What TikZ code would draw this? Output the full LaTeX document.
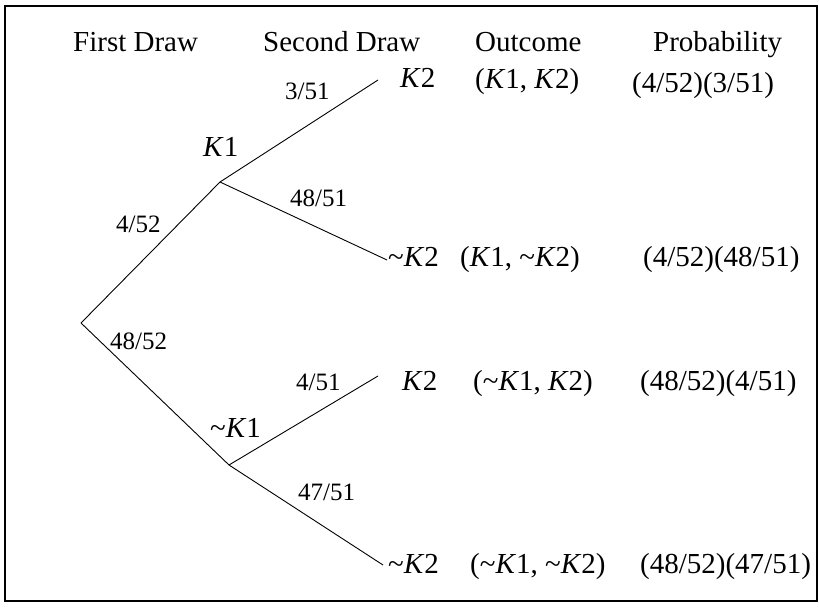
\documentclass[tikz,border=0pt]{standalone}
\usepackage{fontspec}
\setmainfont{Liberation Serif}
\newcommand{\nt}{\textasciitilde}
\begin{document}
\begin{tikzpicture}[x=1pt,y=-1pt,
  branch/.style={line width=0.9pt},
  head/.style={anchor=base west,inner sep=0pt,font=\fontsize{29}{33}\selectfont},
  row/.style={anchor=base west,inner sep=0pt,font=\fontsize{29}{33}\selectfont},
  prob/.style={anchor=base west,inner sep=0pt,font=\fontsize{25}{29}\selectfont}]
\useasboundingbox (0,0) rectangle (819,609);
\draw[line width=1.6pt] (5,6) rectangle (817,601);
% tree points
\coordinate (root) at (81,323);
\coordinate (k1) at (220,182);
\coordinate (nk1) at (229,465);
\coordinate (e1) at (378,80);
\coordinate (e2) at (387,260);
\coordinate (e3) at (378,376);
\coordinate (e4) at (383,565);
\draw[branch] (root) -- (k1);
\draw[branch] (root) -- (nk1);
\draw[branch] (k1) -- (e1);
\draw[branch] (k1) -- (e2);
\draw[branch] (nk1) -- (e3);
\draw[branch] (nk1) -- (e4);
% headers
\node[head] (h1) at (73,52) {First Draw};
\node[head] (h2) at (263,52) {Second Draw};
\node[head] (h3) at (475,52) {Outcome};
\node[head] (h4) at (653,52) {Probability};
% branch labels
\node[prob] (p1) at (285,100) {3/51};
\node[row] (lk1) at (203,157) {\textit{K}1};
\node[prob] (p2) at (290,207) {48/51};
\node[prob] (p3) at (116,233) {4/52};
\node[prob] (p4) at (110,350) {48/52};
\node[prob] (p5) at (296,390) {4/51};
\node[row] (lnk1) at (210,437) {\nt\textit{K}1};
\node[prob] (p6) at (298,500) {47/51};
% rows
\node[row] (r1a) at (400,88) {\textit{K}2};
\node[row] (r1b) at (475,89) {(\textit{K}1, \textit{K}2)};
\node[row] (r1c) at (632,93) {(4/52)(3/51)};
\node[row] (r2a) at (388,267) {\nt\textit{K}2};
\node[row] (r2b) at (460,267) {(\textit{K}1, \nt\textit{K}2)};
\node[row] (r2c) at (643,267) {(4/52)(48/51)};
\node[row] (r3a) at (402,390) {\textit{K}2};
\node[row] (r3b) at (473,390) {(\nt\textit{K}1, \textit{K}2)};
\node[row] (r3c) at (640,390) {(48/52)(4/51)};
\node[row] (r4a) at (388,573) {\nt\textit{K}2};
\node[row] (r4b) at (470,573) {(\nt\textit{K}1, \nt\textit{K}2)};
\node[row] (r4c) at (640,573) {(48/52)(47/51)};
\end{tikzpicture}
\end{document}
